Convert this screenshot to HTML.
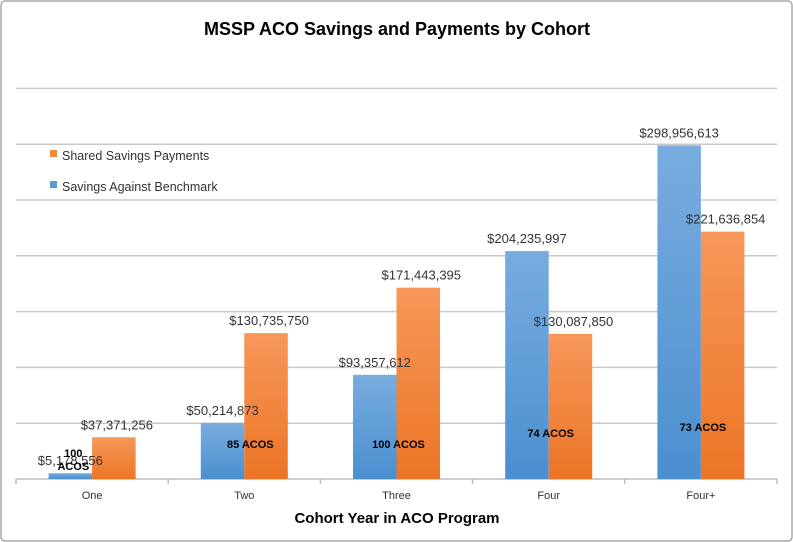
<!DOCTYPE html>
<html><head><meta charset="utf-8"><style>
html,body{margin:0;padding:0;background:#fff;}
svg{display:block;font-family:"Liberation Sans",sans-serif;}
</style></head><body>
<svg width="793" height="542" viewBox="0 0 793 542">
<defs>
<linearGradient id="gb" x1="0" y1="0" x2="0" y2="1"><stop offset="0" stop-color="#78acdf"/><stop offset="1" stop-color="#4b8fd0"/></linearGradient>
<linearGradient id="go" x1="0" y1="0" x2="0" y2="1"><stop offset="0" stop-color="#f7975a"/><stop offset="1" stop-color="#ec7526"/></linearGradient>
</defs>
<rect x="1" y="1" width="791" height="540" rx="4" fill="#fff" stroke="#a8a8a8" stroke-width="1.5"/>
<text x="397" y="35" text-anchor="middle" font-size="18" font-weight="bold" fill="#000">MSSP ACO Savings and Payments by Cohort</text>
<g id="grid"></g>
<g id="bars"></g>
<g id="labels"></g>
<rect x="50" y="150" width="7" height="7" fill="#f08a3e"/>
<text x="62" y="160" font-size="12.5" fill="#333">Shared Savings Payments</text>
<rect x="50" y="181" width="7" height="7" fill="#5b9bd5"/>
<text x="62" y="191" font-size="12.5" fill="#333">Savings Against Benchmark</text>
<text x="397" y="523" text-anchor="middle" font-size="15" font-weight="bold" fill="#000">Cohort Year in ACO Program</text>
</svg>
<script>
const categories=["One","Two","Three","Four","Four+"];
const savings=[5178556,50214873,93357612,204235997,298956613];
const payments=[37371256,130735750,171443395,130087850,221636854];
const acos=["100 ACOS","85 ACOS","100 ACOS","74 ACOS","73 ACOS"];
const gridValues=[50e6,100e6,150e6,200e6,250e6,300e6,350e6];
const NS="http://www.w3.org/2000/svg";
const left=16,right=777,base=479,pxPer=55.8/50e6;
const gw=(right-left)/categories.length,bw=43.5;
const y=v=>base-v*pxPer;
const cx=i=>left+gw*(i+0.5);
function mk(t,a,p){const e=document.createElementNS(NS,t);for(const k in a)e.setAttribute(k,a[k]);document.getElementById(p).appendChild(e);return e;}
const fmt=v=>"$"+v.toLocaleString("en-US");
gridValues.forEach(v=>{
 const l=mk("line",{x1:left,x2:right,y1:y(v),y2:y(v),stroke:"#c8c8c8","stroke-width":1.5},"grid");
 
 
});
const ax=mk("line",{x1:left,x2:right,y1:base,y2:base,stroke:"#bdbdbd","stroke-width":1.5},"grid");


for(let i=0;i<=categories.length;i++){
 const t=mk("line",{x1:left+gw*i,x2:left+gw*i,y1:base,y2:base+5,stroke:"#bdbdbd","stroke-width":1.5},"grid");
 
 
}
categories.forEach((c,i)=>{
 const b=mk("rect",{x:cx(i)-bw,y:y(savings[i]),width:bw,height:base-y(savings[i]),fill:"url(#gb)"},"bars");
 
 
 const o=mk("rect",{x:cx(i),y:y(payments[i]),width:bw,height:base-y(payments[i]),fill:"url(#go)"},"bars");
 
 
 const tl=mk("text",{x:cx(i),y:base+20,"text-anchor":"middle","font-size":11,fill:"#333"},"labels");tl.textContent=c;
 
 
 const sl=mk("text",{x:cx(i)-bw/2,y:y(savings[i])-8,"text-anchor":"middle","font-size":13,fill:"#333"},"labels");sl.textContent=fmt(savings[i]);
 
 
 const pl=mk("text",{x:cx(i)+bw/2+3,y:y(payments[i])-8,"text-anchor":"middle","font-size":13,fill:"#333"},"labels");pl.textContent=fmt(payments[i]);
 
 
 if(i===0){
  const p=acos[i].split(" ");
  p.forEach((w,k)=>{const a=mk("text",{x:cx(i)-bw/2+3,y:457+k*13,"text-anchor":"middle","font-size":11,"font-weight":"bold",fill:"#000"},"labels");a.textContent=w;
  
  });
 } else {
  const ay=i===4?431:(i===3?437:448);
  const a=mk("text",{x:cx(i)+(i===1?6:2),y:ay,"text-anchor":"middle","font-size":11,"font-weight":"bold",fill:"#000"},"labels");a.textContent=acos[i];
  
  
 }
});
</script>
</body></html>
